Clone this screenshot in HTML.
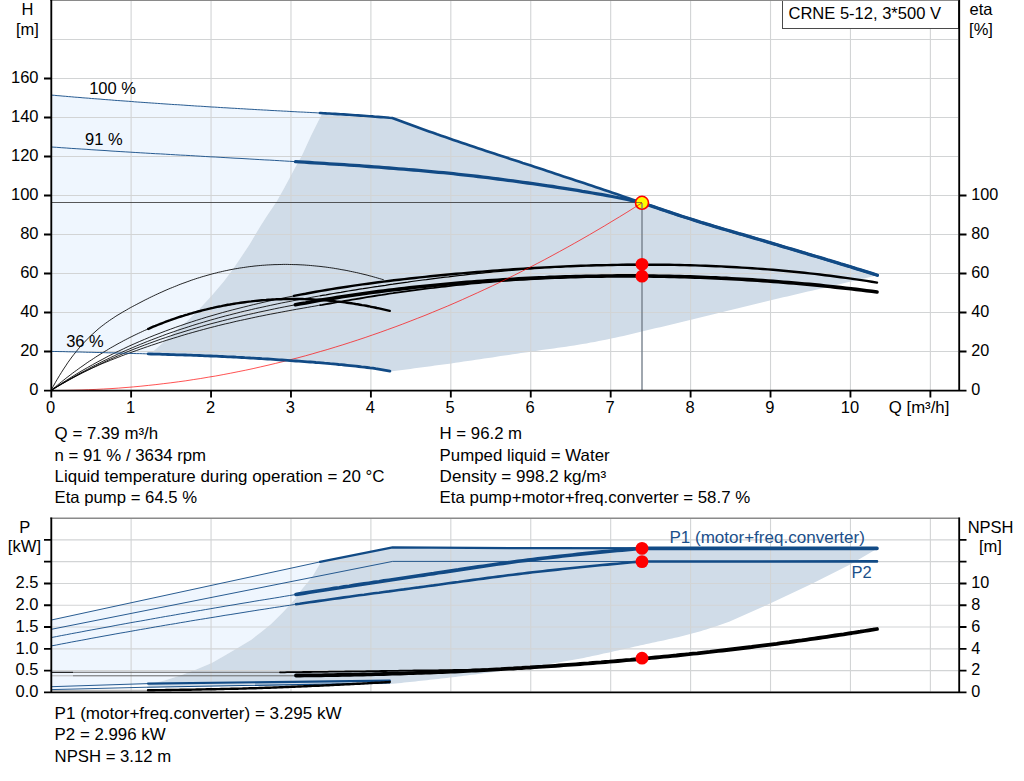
<!DOCTYPE html>
<html><head><meta charset="utf-8"><title>CRNE 5-12 pump curve</title>
<style>html,body{margin:0;padding:0;background:#fff;overflow:hidden}svg{display:block}text{font-family:"Liberation Sans",sans-serif}</style></head>
<body>
<svg width="1024" height="781" viewBox="0 0 1024 781" font-family="'Liberation Sans', sans-serif" font-size="16.5" fill="#000000">
<rect width="1024" height="781" fill="#fff"/>
<path d="M51.4,95.1 L54.3,95.3 L57.1,95.6 L60.0,95.8 L62.9,96.1 L65.7,96.3 L68.6,96.6 L71.5,96.8 L74.3,97.1 L77.2,97.3 L80.0,97.5 L82.9,97.8 L85.8,98.0 L88.6,98.2 L91.5,98.5 L94.4,98.7 L97.2,98.9 L100.1,99.1 L103.0,99.4 L105.8,99.6 L108.7,99.8 L111.6,100.0 L114.4,100.3 L117.3,100.5 L120.2,100.7 L123.0,100.9 L125.9,101.1 L128.7,101.3 L131.6,101.5 L134.5,101.8 L137.3,102.0 L140.2,102.2 L143.1,102.4 L145.9,102.6 L148.8,102.8 L151.7,103.0 L154.5,103.2 L157.4,103.4 L160.3,103.6 L163.1,103.8 L166.0,104.0 L168.9,104.2 L171.7,104.4 L174.6,104.6 L177.4,104.7 L180.3,104.9 L183.2,105.1 L186.0,105.3 L188.9,105.5 L191.8,105.7 L194.6,105.9 L197.5,106.1 L200.4,106.2 L203.2,106.4 L206.1,106.6 L209.0,106.8 L211.8,107.0 L214.7,107.1 L217.6,107.3 L220.4,107.5 L223.3,107.7 L226.1,107.8 L229.0,108.0 L231.9,108.2 L234.7,108.3 L237.6,108.5 L240.5,108.7 L243.3,108.8 L246.2,109.0 L249.1,109.2 L251.9,109.3 L254.8,109.5 L257.7,109.7 L260.5,109.8 L263.4,110.0 L266.3,110.1 L269.1,110.3 L272.0,110.5 L274.8,110.6 L277.7,110.8 L280.6,110.9 L283.4,111.1 L286.3,111.2 L289.2,111.4 L292.0,111.6 L294.9,111.7 L297.8,111.9 L300.6,112.0 L303.5,112.1 L306.4,112.3 L309.2,112.4 L312.1,112.6 L315.0,112.7 L317.8,112.9 L320.7,113.0 L322.2,113.1 L322.2,113.3 L311.0,135.7 L301.8,155.7 L295.7,166.4 L284.2,187.9 L276.5,201.7 L267.5,215.0 L261.1,224.9 L249.5,244.4 L242.2,255.4 L232.9,269.2 L223.7,281.5 L211.4,296.1 L200.7,307.6 L188.4,319.9 L176.1,330.6 L165.4,340.6 L153.1,351.4 L150.0,354.2 L150.0,354.0 L148.1,353.9 L145.3,353.8 L142.4,353.7 L139.6,353.6 L136.7,353.6 L133.9,353.5 L131.0,353.4 L128.2,353.3 L125.4,353.2 L122.5,353.2 L119.7,353.1 L116.8,353.0 L114.0,352.9 L111.1,352.8 L108.3,352.8 L105.4,352.7 L102.6,352.6 L99.8,352.5 L96.9,352.5 L94.1,352.4 L91.2,352.3 L88.4,352.3 L85.5,352.2 L82.7,352.1 L79.8,352.0 L77.0,352.0 L74.2,351.9 L71.3,351.8 L68.5,351.8 L65.6,351.7 L62.8,351.6 L59.9,351.6 L57.1,351.5 L54.2,351.5 L51.4,351.4Z" fill="#eff6fe" stroke="none" stroke-width="0" stroke-linecap="butt" stroke-linejoin="round" />
<path d="M150.0,354.2 L153.1,351.4 L165.4,340.6 L176.1,330.6 L188.4,319.9 L200.7,307.6 L211.4,296.1 L223.7,281.5 L232.9,269.2 L242.2,255.4 L249.5,244.4 L261.1,224.9 L267.5,215.0 L276.5,201.7 L284.2,187.9 L295.7,166.4 L301.8,155.7 L311.0,135.7 L322.2,113.3 L322.2,113.1 L323.5,113.2 L326.4,113.4 L329.3,113.5 L332.1,113.7 L335.0,113.9 L337.9,114.1 L340.7,114.3 L343.6,114.4 L346.5,114.6 L349.3,114.8 L352.2,115.0 L355.1,115.2 L357.9,115.4 L360.8,115.6 L363.7,115.8 L366.5,116.0 L369.4,116.2 L372.2,116.4 L375.1,116.7 L378.0,116.9 L380.8,117.1 L383.7,117.3 L386.6,117.5 L389.4,117.8 L392.3,118.0 L392.3,118.0 L396.4,119.5 L400.5,121.0 L404.5,122.5 L408.6,124.0 L412.7,125.5 L416.8,127.0 L420.8,128.4 L424.9,129.9 L429.0,131.4 L433.1,132.8 L437.1,134.3 L441.2,135.7 L445.3,137.1 L449.4,138.5 L453.4,139.9 L457.5,141.3 L461.6,142.7 L465.7,144.1 L469.8,145.5 L473.8,146.8 L477.9,148.2 L482.0,149.5 L486.1,150.9 L490.1,152.2 L494.2,153.5 L498.3,154.9 L502.4,156.2 L506.4,157.5 L510.5,158.9 L514.6,160.2 L518.7,161.5 L522.7,162.9 L526.8,164.2 L530.9,165.6 L535.0,166.9 L539.1,168.3 L543.1,169.6 L547.2,171.0 L551.3,172.3 L555.4,173.7 L559.4,175.0 L563.5,176.4 L567.6,177.7 L571.7,179.1 L575.7,180.4 L579.8,181.8 L583.9,183.1 L588.0,184.5 L592.0,185.8 L596.1,187.2 L600.2,188.6 L604.3,189.9 L608.4,191.3 L612.4,192.7 L616.5,194.1 L620.6,195.5 L624.7,196.9 L628.7,198.3 L632.8,199.7 L636.9,201.1 L641.0,202.4 L645.0,203.8 L649.1,205.2 L653.2,206.6 L657.3,208.0 L661.3,209.4 L665.4,210.8 L669.5,212.1 L673.6,213.5 L677.7,214.9 L681.7,216.2 L685.8,217.5 L689.9,218.8 L694.0,220.1 L698.0,221.4 L702.1,222.7 L706.2,223.9 L710.3,225.1 L714.3,226.4 L718.4,227.6 L722.5,228.8 L726.6,230.0 L730.6,231.2 L734.7,232.4 L738.8,233.6 L742.9,234.7 L747.0,235.9 L751.0,237.1 L755.1,238.3 L759.2,239.5 L763.3,240.7 L767.3,241.9 L771.4,243.1 L775.5,244.3 L779.6,245.6 L783.6,246.8 L787.7,248.0 L791.8,249.2 L795.9,250.4 L799.9,251.6 L804.0,252.8 L808.1,254.1 L812.2,255.3 L816.3,256.5 L820.3,257.7 L824.4,258.9 L828.5,260.2 L832.6,261.4 L836.6,262.6 L840.7,263.9 L844.8,265.1 L848.9,266.3 L852.9,267.6 L857.0,268.9 L861.1,270.1 L865.2,271.4 L869.2,272.6 L873.3,273.9 L877.4,275.2 L877.4,275.2 L873.3,276.2 L869.2,277.2 L865.1,278.2 L861.0,279.2 L856.9,280.2 L852.8,281.2 L848.7,282.1 L844.6,283.1 L840.5,284.1 L836.4,285.0 L832.3,286.0 L828.2,286.9 L824.1,287.9 L820.0,288.8 L816.0,289.8 L811.9,290.7 L807.8,291.6 L803.7,292.6 L799.6,293.5 L795.5,294.5 L791.4,295.4 L787.3,296.4 L783.2,297.3 L779.1,298.3 L775.0,299.3 L770.9,300.2 L766.8,301.2 L762.7,302.2 L758.6,303.2 L754.5,304.2 L750.4,305.2 L746.3,306.2 L742.2,307.2 L738.1,308.2 L734.0,309.2 L729.9,310.2 L725.8,311.2 L721.7,312.2 L717.6,313.2 L713.5,314.2 L709.4,315.2 L705.3,316.2 L701.2,317.2 L697.1,318.2 L693.1,319.2 L689.0,320.2 L684.9,321.2 L680.8,322.2 L676.7,323.2 L672.6,324.2 L668.5,325.2 L664.4,326.2 L660.3,327.2 L656.2,328.1 L652.1,329.1 L648.0,330.1 L643.9,331.1 L639.8,332.0 L635.7,333.0 L631.6,334.0 L627.5,334.9 L623.4,335.9 L619.3,336.8 L615.2,337.7 L611.1,338.6 L607.0,339.4 L602.9,340.3 L598.8,341.1 L594.7,341.9 L590.6,342.6 L586.5,343.4 L582.4,344.1 L578.3,344.8 L574.2,345.4 L570.2,346.1 L566.1,346.7 L562.0,347.3 L557.9,347.8 L553.8,348.4 L549.7,349.0 L545.6,349.5 L541.5,350.1 L537.4,350.7 L533.3,351.3 L529.2,351.9 L525.1,352.5 L521.0,353.1 L516.9,353.7 L512.8,354.3 L508.7,354.9 L504.6,355.5 L500.5,356.1 L496.4,356.8 L492.3,357.4 L488.2,358.0 L484.1,358.6 L480.0,359.2 L475.9,359.8 L471.8,360.4 L467.7,361.0 L463.6,361.6 L459.5,362.2 L455.4,362.8 L451.3,363.4 L447.3,363.9 L443.2,364.5 L439.1,365.0 L435.0,365.6 L430.9,366.2 L426.8,366.7 L422.7,367.3 L418.6,367.8 L414.5,368.3 L410.4,368.9 L406.3,369.4 L402.2,369.9 L398.1,370.5 L394.0,371.0 L389.9,371.5 L389.9,371.1 L387.1,370.6 L384.2,370.1 L381.4,369.6 L378.5,369.1 L375.7,368.7 L372.8,368.2 L370.0,367.9 L367.1,367.5 L364.3,367.2 L361.5,366.9 L358.6,366.5 L355.8,366.2 L352.9,365.9 L350.1,365.6 L347.2,365.3 L344.4,365.0 L341.5,364.7 L338.7,364.5 L335.9,364.2 L333.0,363.9 L330.2,363.7 L327.3,363.4 L324.5,363.2 L321.6,362.9 L318.8,362.7 L315.9,362.5 L313.1,362.2 L310.3,362.0 L307.4,361.8 L304.6,361.6 L301.7,361.4 L298.9,361.2 L296.0,361.0 L293.2,360.8 L290.3,360.6 L287.5,360.4 L284.7,360.2 L281.8,360.0 L279.0,359.8 L276.1,359.6 L273.3,359.4 L270.4,359.2 L267.6,359.0 L264.7,358.8 L261.9,358.7 L259.1,358.5 L256.2,358.3 L253.4,358.1 L250.5,358.0 L247.7,357.8 L244.8,357.7 L242.0,357.5 L239.1,357.3 L236.3,357.2 L233.5,357.0 L230.6,356.9 L227.8,356.8 L224.9,356.6 L222.1,356.5 L219.2,356.4 L216.4,356.2 L213.5,356.1 L210.7,356.0 L207.8,355.9 L205.0,355.8 L202.2,355.6 L199.3,355.5 L196.5,355.4 L193.6,355.3 L190.8,355.2 L187.9,355.1 L185.1,355.0 L182.2,354.9 L179.4,354.8 L176.6,354.8 L173.7,354.7 L170.9,354.6 L168.0,354.5 L165.2,354.4 L162.3,354.3 L159.5,354.2 L156.6,354.1 L153.8,354.1 L151.0,354.0 L150.0,354.0Z" fill="#d0dce8" stroke="none" stroke-width="0" stroke-linecap="butt" stroke-linejoin="round" />
<path d="M51.4,620.0 L321.0,561.8 L321.0,562.0 L312.1,576.9 L301.9,589.2 L294.7,599.4 L283.4,611.7 L271.1,624.0 L260.9,632.2 L251.7,639.4 L238.4,647.6 L226.1,654.8 L211.7,663.0 L197.4,669.1 L181.0,675.2 L164.6,680.4 L148.2,684.6 L51.4,689.6Z" fill="#eff6fe" stroke="none" stroke-width="0" stroke-linecap="butt" stroke-linejoin="round" />
<path d="M148.2,684.6 L164.6,680.4 L181.0,675.2 L197.4,669.1 L211.7,663.0 L226.1,654.8 L238.4,647.6 L251.7,639.4 L260.9,632.2 L271.1,624.0 L283.4,611.7 L294.7,599.4 L301.9,589.2 L312.1,576.9 L321.0,562.0 L392.6,547.4 L540.0,548.2 L877.0,548.4 L877.0,548.8 L850.7,564.2 L810.9,584.2 L770.6,603.3 L729.1,621.8 L726.2,622.8 L723.4,623.8 L720.5,624.8 L717.7,625.7 L714.8,626.7 L712.0,627.6 L709.1,628.5 L706.3,629.4 L703.4,630.3 L700.6,631.2 L697.7,632.0 L694.9,632.8 L692.0,633.6 L689.2,634.3 L686.3,635.1 L683.5,635.8 L680.6,636.5 L677.8,637.2 L674.9,637.8 L672.1,638.5 L669.2,639.1 L666.4,639.8 L663.5,640.4 L660.7,641.0 L657.8,641.6 L655.0,642.2 L652.1,642.8 L649.3,643.5 L646.4,644.1 L643.6,644.7 L640.7,645.3 L637.9,646.0 L635.0,646.6 L632.2,647.3 L629.3,647.9 L626.5,648.6 L623.6,649.2 L620.8,649.8 L617.9,650.5 L615.0,651.1 L612.2,651.7 L609.3,652.4 L606.5,653.0 L603.6,653.6 L600.8,654.3 L597.9,654.9 L595.1,655.5 L592.2,656.1 L589.4,656.7 L586.5,657.3 L583.7,657.9 L580.8,658.4 L578.0,659.0 L575.1,659.5 L572.3,660.0 L569.4,660.5 L566.6,661.0 L563.7,661.5 L560.9,662.0 L558.0,662.5 L555.2,663.0 L552.3,663.5 L549.5,663.9 L546.6,664.4 L543.8,664.8 L540.9,665.3 L538.1,665.7 L535.2,666.2 L532.4,666.6 L529.5,667.0 L526.7,667.4 L523.8,667.9 L521.0,668.3 L518.1,668.7 L515.3,669.1 L512.4,669.5 L509.6,669.9 L506.7,670.3 L503.9,670.7 L501.0,671.1 L498.1,671.5 L495.3,671.8 L492.4,672.2 L489.6,672.6 L486.7,673.0 L483.9,673.3 L481.0,673.7 L478.2,674.1 L475.3,674.4 L472.5,674.8 L469.6,675.1 L466.8,675.5 L463.9,675.8 L461.1,676.2 L458.2,676.5 L455.4,676.9 L452.5,677.2 L449.7,677.6 L446.8,677.9 L444.0,678.2 L441.1,678.6 L438.3,678.9 L435.4,679.2 L432.6,679.5 L429.7,679.8 L426.9,680.2 L424.0,680.5 L421.2,680.8 L418.3,681.1 L415.5,681.4 L412.6,681.7 L409.8,682.0 L406.9,682.3 L404.1,682.6 L401.2,682.9 L398.4,683.2 L395.5,683.4 L392.7,683.7 L389.8,684.0 L148.3,687.0Z" fill="#d0dce8" stroke="none" stroke-width="0" stroke-linecap="butt" stroke-linejoin="round" />
<path d="M131.12,1 V390 M131.12,519 V691.6 M211.05,1 V390 M211.05,519 V691.6 M290.97,1 V390 M290.97,519 V691.6 M370.90,1 V390 M370.90,519 V691.6 M450.82,1 V390 M450.82,519 V691.6 M530.75,1 V390 M530.75,519 V691.6 M610.68,1 V390 M610.68,519 V691.6 M690.60,1 V390 M690.60,519 V691.6 M770.52,1 V390 M770.52,519 V691.6 M850.45,1 V390 M850.45,519 V691.6 M930.38,1 V390 M930.38,519 V691.6 M52,351.5 H958 M52,312.5 H958 M52,273.5 H958 M52,234.5 H958 M52,195.5 H958 M52,156.5 H958 M52,117.5 H958 M52,78.5 H958 M52,39.5 H958 M52,670.61 H958 M52,648.83 H958 M52,627.04 H958 M52,605.25 H958 M52,583.46 H958 M52,561.67 H958 M52,539.89 H958" stroke="#d2d4d5" stroke-width="1.1" fill="none"/>
<path d="M52,202.5 H642" stroke="#3c3c3c" stroke-width="1" opacity="0.85"/>
<path d="M642,203 V390" stroke="#707b86" stroke-width="2" opacity="0.66"/>
<path d="M51.0,390.5 L53.1,386.6 L55.2,382.8 L57.3,379.2 L59.4,375.7 L61.5,372.3 L63.6,369.0 L65.7,365.9 L67.7,362.8 L69.8,359.9 L71.9,357.0 L74.0,354.3 L76.1,351.7 L78.2,349.1 L80.3,346.7 L82.4,344.3 L84.5,342.1 L86.6,339.9 L88.7,337.8 L90.8,335.7 L92.9,333.8 L95.0,331.9 L97.0,330.1 L99.1,328.3 L101.2,326.6 L103.3,325.0 L105.4,323.4 L107.5,321.9 L109.6,320.4 L111.7,319.0 L113.8,317.6 L115.9,316.2 L118.0,314.9 L120.1,313.7 L122.2,312.4 L124.3,311.2 L126.4,310.0 L128.4,308.8 L130.5,307.6 L132.6,306.5 L134.7,305.4 L136.8,304.3 L138.9,303.2 L141.0,302.1 L143.1,301.0 L145.2,299.9 L147.3,298.9 L149.4,297.8 L151.5,296.8 L153.6,295.8 L155.7,294.8 L157.7,293.9 L159.8,292.9 L161.9,292.0 L164.0,291.0 L166.1,290.1 L168.2,289.2 L170.3,288.3 L172.4,287.5 L174.5,286.6 L176.6,285.8 L178.7,284.9 L180.8,284.1 L182.9,283.3 L185.0,282.6 L187.1,281.8 L189.1,281.1 L191.2,280.3 L193.3,279.6 L195.4,278.9 L197.5,278.2 L199.6,277.6 L201.7,276.9 L203.8,276.3 L205.9,275.7 L208.0,275.1 L210.1,274.5 L212.2,273.9 L214.3,273.4 L216.4,272.9 L218.4,272.3 L220.5,271.9 L222.6,271.4 L224.7,270.9 L226.8,270.5 L228.9,270.0 L231.0,269.6 L233.1,269.2 L235.2,268.8 L237.3,268.5 L239.4,268.1 L241.5,267.8 L243.6,267.5 L245.7,267.2 L247.7,266.9 L249.8,266.6 L251.9,266.4 L254.0,266.1 L256.1,265.9 L258.2,265.7 L260.3,265.5 L262.4,265.3 L264.5,265.2 L266.6,265.0 L268.7,264.9 L270.8,264.8 L272.9,264.7 L275.0,264.6 L277.1,264.6 L279.1,264.5 L281.2,264.5 L283.3,264.4 L285.4,264.4 L287.5,264.4 L289.6,264.5 L291.7,264.5 L293.8,264.6 L295.9,264.6 L298.0,264.7 L300.1,264.8 L302.2,264.9 L304.3,265.0 L306.4,265.2 L308.4,265.3 L310.5,265.5 L312.6,265.7 L314.7,265.9 L316.8,266.1 L318.9,266.3 L321.0,266.5 L323.1,266.8 L325.2,267.0 L327.3,267.3 L329.4,267.6 L331.5,267.9 L333.6,268.2 L335.7,268.6 L337.8,268.9 L339.8,269.3 L341.9,269.7 L344.0,270.0 L346.1,270.4 L348.2,270.8 L350.3,271.3 L352.4,271.7 L354.5,272.2 L356.6,272.6 L358.7,273.1 L360.8,273.6 L362.9,274.1 L365.0,274.6 L367.1,275.1 L369.1,275.7 L371.2,276.2 L373.3,276.8 L375.4,277.4 L377.5,278.0 L379.6,278.6 L381.7,279.2 L383.8,279.8" fill="none" stroke="#000" stroke-width="0.85" stroke-linecap="butt" stroke-linejoin="round" />
<path d="M51.0,390.5 L53.1,388.7 L55.3,386.9 L57.4,385.2 L59.5,383.4 L61.7,381.7 L63.8,380.0 L65.9,378.3 L68.0,376.7 L70.2,375.0 L72.3,373.4 L74.4,371.8 L76.6,370.3 L78.7,368.7 L80.8,367.2 L83.0,365.7 L85.1,364.2 L87.2,362.7 L89.3,361.3 L91.5,359.9 L93.6,358.5 L95.7,357.1 L97.9,355.7 L100.0,354.4 L102.1,353.1 L104.3,351.7 L106.4,350.5 L108.5,349.2 L110.6,347.9 L112.8,346.7 L114.9,345.5 L117.0,344.3 L119.2,343.1 L121.3,342.0 L123.4,340.8 L125.6,339.7 L127.7,338.6 L129.8,337.5 L131.9,336.5 L134.1,335.4 L136.2,334.4 L138.3,333.4 L140.5,332.4 L142.6,331.4 L144.7,330.4 L146.9,329.5 L148.2,328.9" fill="none" stroke="#000" stroke-width="0.85" stroke-linecap="butt" stroke-linejoin="round" />
<path d="M51.0,390.5 L56.2,387.0 L61.4,383.5 L66.6,380.2 L71.8,376.9 L77.0,373.7 L82.2,370.6 L87.4,367.6 L92.6,364.7 L97.8,361.8 L102.9,359.1 L108.1,356.3 L113.3,353.7 L118.5,351.2 L123.7,348.7 L128.9,346.2 L134.1,343.9 L139.3,341.6 L144.5,339.4 L149.7,337.2 L154.9,335.1 L160.1,333.1 L165.3,331.1 L170.5,329.2 L175.7,327.3 L180.9,325.5 L186.1,323.7 L191.3,322.0 L196.5,320.3 L201.7,318.7 L206.8,317.1 L212.0,315.6 L217.2,314.1 L222.4,312.6 L227.6,311.2 L232.8,309.8 L238.0,308.5 L243.2,307.2 L248.4,305.9 L253.6,304.6 L258.8,303.4 L264.0,302.2 L269.2,301.0 L274.4,299.9 L279.6,298.8 L284.8,297.7 L290.0,296.7 L294.0,295.9" fill="none" stroke="#000" stroke-width="0.85" stroke-linecap="butt" stroke-linejoin="round" />
<path d="M51.0,390.5 L56.2,387.4 L61.4,384.3 L66.6,381.4 L71.8,378.5 L77.0,375.7 L82.2,372.9 L87.4,370.3 L92.6,367.7 L97.8,365.1 L102.9,362.7 L108.1,360.2 L113.3,357.9 L118.5,355.6 L123.7,353.4 L128.9,351.2 L134.1,349.1 L139.3,347.1 L144.5,345.1 L149.7,343.2 L154.9,341.3 L160.1,339.4 L165.3,337.7 L170.5,335.9 L175.7,334.2 L180.9,332.6 L186.1,331.0 L191.3,329.4 L196.5,327.9 L201.7,326.4 L206.8,324.9 L212.0,323.5 L217.2,322.2 L222.4,320.8 L227.6,319.5 L232.8,318.2 L238.0,317.0 L243.2,315.7 L248.4,314.5 L253.6,313.4 L258.8,312.2 L264.0,311.1 L269.2,310.0 L274.4,308.9 L279.6,307.8 L284.8,306.8 L290.0,305.8 L295.2,304.8 L295.4,304.7" fill="none" stroke="#000" stroke-width="0.85" stroke-linecap="butt" stroke-linejoin="round" />
<path d="M51.0,390.5 L54.7,388.2 L58.4,385.9 L62.2,383.6 L65.9,381.4 L69.6,379.2 L73.3,377.1 L77.0,375.0 L80.7,372.9 L84.5,370.9 L88.2,368.9 L91.9,366.9 L95.6,365.0 L99.3,363.1 L103.0,361.2 L106.8,359.4 L110.5,357.6 L114.2,355.8 L117.9,354.1 L121.6,352.4 L125.3,350.7 L129.1,349.1 L132.8,347.5 L136.5,345.9 L140.2,344.4 L143.9,342.9 L147.6,341.4 L151.4,339.9 L155.1,338.5 L158.8,337.1 L162.5,335.7 L166.2,334.3 L169.9,333.0 L173.7,331.7 L177.4,330.4 L181.1,329.2 L184.8,328.0 L188.5,326.8 L192.2,325.6 L196.0,324.4 L199.7,323.3 L203.4,322.2 L207.1,321.1 L210.8,320.0 L214.5,319.0 L218.3,317.9 L222.0,316.9 L225.7,315.9 L229.4,315.0 L233.1,314.0 L236.8,313.1 L240.6,312.1 L244.3,311.2 L248.0,310.4 L251.7,309.5 L255.4,308.6 L259.2,307.8 L262.9,307.0 L266.6,306.2 L270.3,305.4 L274.0,304.6 L277.7,303.8 L281.5,303.0 L285.2,302.3 L288.9,301.6 L292.6,300.8 L296.3,300.1 L300.0,299.4 L303.8,298.7 L307.5,298.1 L311.2,297.4 L314.9,296.7 L318.6,296.1 L320.0,295.8" fill="none" stroke="#000" stroke-width="0.85" stroke-linecap="butt" stroke-linejoin="round" />
<path d="M320.0,295.8 L322.3,295.4 L326.1,294.8 L329.8,294.1 L333.5,293.5 L337.2,292.9 L340.9,292.3 L344.6,291.6 L348.4,291.0 L352.1,290.4 L355.8,289.8 L359.5,289.2 L363.2,288.7 L366.9,288.1 L370.7,287.5 L374.4,286.9 L378.1,286.4 L381.8,285.8 L385.5,285.3 L389.2,284.7 L393.0,284.2 L396.7,283.6 L400.4,283.1 L404.1,282.6 L407.8,282.1 L411.5,281.5 L415.3,281.0 L419.0,280.5 L422.7,280.0 L426.4,279.6 L430.1,279.1 L433.8,278.6 L437.6,278.1 L441.3,277.7 L445.0,277.2 L448.7,276.8 L452.4,276.3 L456.2,275.9 L459.9,275.5 L463.6,275.1 L467.3,274.6 L471.0,274.2 L474.7,273.8 L478.5,273.4 L482.2,273.1 L485.9,272.7 L489.6,272.3 L493.3,272.0 L497.0,271.6 L500.8,271.3 L504.5,270.9 L508.2,270.6 L511.9,270.3 L515.6,269.9 L519.3,269.6 L523.1,269.3 L526.8,269.0 L530.5,268.8 L534.2,268.5 L537.9,268.2 L541.6,268.0 L545.4,267.7 L549.1,267.5 L552.8,267.2 L556.5,267.0 L560.2,266.8 L563.9,266.6 L567.7,266.4 L571.4,266.2 L575.1,266.0 L578.8,265.8 L582.5,265.7 L586.2,265.5 L590.0,265.4 L593.7,265.2 L597.4,265.1 L601.1,265.0 L604.8,264.9 L608.5,264.8 L612.3,264.7 L616.0,264.6 L619.7,264.5 L623.4,264.5 L627.1,264.4 L630.8,264.4 L634.6,264.3 L638.3,264.3 L642.0,264.3" fill="none" stroke="#000" stroke-width="1.2" stroke-linecap="butt" stroke-linejoin="round" />
<path d="M51.0,390.5 L54.7,388.1 L58.4,385.8 L62.2,383.6 L65.9,381.5 L69.6,379.4 L73.3,377.4 L77.0,375.4 L80.7,373.6 L84.5,371.7 L88.2,370.0 L91.9,368.2 L95.6,366.6 L99.3,364.9 L103.0,363.3 L106.8,361.8 L110.5,360.3 L114.2,358.8 L117.9,357.4 L121.6,355.9 L125.3,354.5 L129.1,353.2 L132.8,351.8 L136.5,350.5 L140.2,349.2 L143.9,347.9 L147.6,346.6 L151.4,345.3 L155.1,344.1 L158.8,342.8 L162.5,341.6 L166.2,340.4 L169.9,339.3 L173.7,338.1 L177.4,337.0 L181.1,335.8 L184.8,334.7 L188.5,333.6 L192.2,332.6 L196.0,331.5 L199.7,330.5 L203.4,329.5 L207.1,328.5 L210.8,327.5 L214.5,326.6 L218.3,325.6 L222.0,324.7 L225.7,323.8 L229.4,323.0 L233.1,322.1 L236.8,321.2 L240.6,320.4 L244.3,319.6 L248.0,318.8 L251.7,318.0 L255.4,317.2 L259.2,316.4 L262.9,315.7 L266.6,314.9 L270.3,314.2 L274.0,313.5 L277.7,312.8 L281.5,312.1 L285.2,311.4 L288.9,310.7 L292.6,310.0 L296.3,309.3 L300.0,308.7 L303.8,308.0 L307.5,307.4 L311.2,306.7 L314.9,306.1 L318.6,305.4 L320.3,305.1" fill="none" stroke="#000" stroke-width="0.85" stroke-linecap="butt" stroke-linejoin="round" />
<path d="M320.3,305.1 L322.3,304.8 L326.1,304.1 L329.8,303.5 L333.5,302.9 L337.2,302.2 L340.9,301.6 L344.6,301.0 L348.4,300.3 L352.1,299.7 L355.8,299.1 L359.5,298.5 L363.2,297.8 L366.9,297.2 L370.7,296.6 L374.4,296.0 L378.1,295.4 L381.8,294.9 L385.5,294.3 L389.2,293.7 L393.0,293.2 L396.7,292.6 L400.4,292.1 L404.1,291.6 L407.8,291.1 L411.5,290.6 L415.3,290.1 L419.0,289.6 L422.7,289.1 L426.4,288.7 L430.1,288.2 L433.8,287.8 L437.6,287.3 L441.3,286.9 L445.0,286.5 L448.7,286.1 L452.4,285.6 L456.2,285.2 L459.9,284.9 L463.6,284.5 L467.3,284.1 L471.0,283.7 L474.7,283.4 L478.5,283.0 L482.2,282.7 L485.9,282.4 L489.6,282.0 L493.3,281.7 L497.0,281.4 L500.8,281.1 L504.5,280.8 L508.2,280.5 L511.9,280.3 L515.6,280.0 L519.3,279.7 L523.1,279.5 L526.8,279.3 L530.5,279.0 L534.2,278.8 L537.9,278.6 L541.6,278.4 L545.4,278.2 L549.1,278.0 L552.8,277.8 L556.5,277.6 L560.2,277.5 L563.9,277.3 L567.7,277.2 L571.4,277.1 L575.1,276.9 L578.8,276.8 L582.5,276.7 L586.2,276.6 L590.0,276.5 L593.7,276.4 L597.4,276.4 L601.1,276.3 L604.8,276.2 L608.5,276.2 L612.3,276.2 L616.0,276.1 L619.7,276.1 L623.4,276.1 L627.1,276.1 L630.8,276.1 L634.6,276.1 L638.3,276.2 L642.0,276.2" fill="none" stroke="#000" stroke-width="1.8" stroke-linecap="round" stroke-linejoin="round" />
<path d="M148.2,328.9 L149.0,328.6 L151.1,327.6 L153.2,326.7 L155.4,325.9 L157.5,325.0 L159.6,324.2 L161.8,323.3 L163.9,322.5 L166.0,321.7 L168.2,320.9 L170.3,320.2 L172.4,319.4 L174.6,318.7 L176.7,317.9 L178.8,317.2 L180.9,316.5 L183.1,315.9 L185.2,315.2 L187.3,314.6 L189.5,313.9 L191.6,313.3 L193.7,312.7 L195.9,312.1 L198.0,311.5 L200.1,311.0 L202.2,310.4 L204.4,309.9 L206.5,309.4 L208.6,308.8 L210.8,308.3 L212.9,307.9 L215.0,307.4 L217.2,306.9 L219.3,306.5 L221.4,306.1 L223.5,305.6 L225.7,305.2 L227.8,304.8 L229.9,304.5 L232.1,304.1 L234.2,303.7 L236.3,303.4 L238.5,303.1 L240.6,302.8 L242.7,302.5 L244.8,302.2 L247.0,301.9 L249.1,301.6 L251.2,301.4 L253.4,301.1 L255.5,300.9 L257.6,300.7 L259.8,300.5 L261.9,300.3 L264.0,300.1 L266.1,300.0 L268.3,299.8 L270.4,299.7 L272.5,299.5 L274.7,299.4 L276.8,299.3 L278.9,299.2 L281.1,299.2 L283.2,299.1 L285.3,299.0 L287.5,299.0 L289.6,299.0 L291.7,298.9 L293.8,298.9 L296.0,299.0 L298.1,299.0 L300.2,299.0 L302.4,299.0 L304.5,299.1 L306.6,299.2 L308.8,299.2 L310.9,299.3 L313.0,299.4 L315.1,299.6 L317.3,299.7 L319.4,299.8 L321.5,300.0 L323.7,300.1 L325.8,300.3 L327.9,300.5 L330.1,300.7 L332.2,300.9 L334.3,301.1 L336.4,301.4 L338.6,301.6 L340.7,301.9 L342.8,302.1 L345.0,302.4 L347.1,302.7 L349.2,303.0 L351.4,303.3 L353.5,303.6 L355.6,304.0 L357.7,304.3 L359.9,304.7 L362.0,305.1 L364.1,305.4 L366.3,305.8 L368.4,306.2 L370.5,306.7 L372.7,307.1 L374.8,307.5 L376.9,308.0 L379.0,308.4 L381.2,308.9 L383.3,309.4 L385.4,309.9 L387.6,310.4 L389.7,310.9" fill="none" stroke="#000" stroke-width="2.4" stroke-linecap="round" stroke-linejoin="round" />
<path d="M294.0,295.9 L295.2,295.6 L300.4,294.6 L305.6,293.7 L310.7,292.7 L315.9,291.8 L321.1,290.9 L326.3,290.0 L331.5,289.1 L336.7,288.3 L341.9,287.5 L347.1,286.7 L352.3,285.9 L357.5,285.1 L362.7,284.4 L367.9,283.7 L373.1,283.0 L378.3,282.3 L383.5,281.6 L388.7,281.0 L393.9,280.3 L399.1,279.7 L404.3,279.1 L409.5,278.5 L414.6,278.0 L419.8,277.4 L425.0,276.9 L430.2,276.3 L435.4,275.8 L440.6,275.3 L445.8,274.8 L451.0,274.3 L456.2,273.8 L461.4,273.4 L466.6,272.9 L471.8,272.5 L477.0,272.0 L482.2,271.6 L487.4,271.2 L492.6,270.8 L497.8,270.4 L503.0,270.0 L508.2,269.7 L513.4,269.3 L518.5,269.0 L523.7,268.6 L528.9,268.3 L534.1,268.0 L539.3,267.7 L544.5,267.4 L549.7,267.2 L554.9,266.9 L560.1,266.7 L565.3,266.4 L570.5,266.2 L575.7,266.0 L580.9,265.8 L586.1,265.6 L591.3,265.5 L596.5,265.3 L601.7,265.2 L606.9,265.1 L612.1,265.0 L617.3,264.9 L622.4,264.8 L627.6,264.8 L632.8,264.7 L638.0,264.7 L643.2,264.7 L648.4,264.7 L653.6,264.7 L658.8,264.7 L664.0,264.8 L669.2,264.8 L674.4,264.9 L679.6,265.0 L684.8,265.1 L690.0,265.3 L695.2,265.4 L700.4,265.6 L705.6,265.8 L710.8,266.0 L716.0,266.2 L721.2,266.4 L726.3,266.7 L731.5,267.0 L736.7,267.3 L741.9,267.6 L747.1,267.9 L752.3,268.3 L757.5,268.6 L762.7,269.0 L767.9,269.4 L773.1,269.8 L778.3,270.3 L783.5,270.7 L788.7,271.2 L793.9,271.7 L799.1,272.3 L804.3,272.8 L809.5,273.4 L814.7,273.9 L819.9,274.5 L825.1,275.2 L830.2,275.8 L835.4,276.5 L840.6,277.2 L845.8,277.9 L851.0,278.6 L856.2,279.4 L861.4,280.1 L866.6,280.9 L871.8,281.8 L877.0,282.6" fill="none" stroke="#000" stroke-width="2.4" stroke-linecap="round" stroke-linejoin="round" />
<path d="M295.4,304.7 L300.4,303.8 L305.6,302.9 L310.7,301.9 L315.9,301.0 L321.1,300.1 L326.3,299.3 L331.5,298.4 L336.7,297.6 L341.9,296.8 L347.1,296.0 L352.3,295.2 L357.5,294.5 L362.7,293.7 L367.9,293.0 L373.1,292.3 L378.3,291.6 L383.5,291.0 L388.7,290.3 L393.9,289.7 L399.1,289.1 L404.3,288.5 L409.5,287.9 L414.6,287.3 L419.8,286.8 L425.0,286.2 L430.2,285.7 L435.4,285.2 L440.6,284.7 L445.8,284.2 L451.0,283.8 L456.2,283.3 L461.4,282.9 L466.6,282.4 L471.8,282.0 L477.0,281.6 L482.2,281.2 L487.4,280.9 L492.6,280.5 L497.8,280.2 L503.0,279.8 L508.2,279.5 L513.4,279.2 L518.5,278.9 L523.7,278.6 L528.9,278.4 L534.1,278.1 L539.3,277.9 L544.5,277.7 L549.7,277.4 L554.9,277.2 L560.1,277.1 L565.3,276.9 L570.5,276.7 L575.7,276.6 L580.9,276.5 L586.1,276.3 L591.3,276.2 L596.5,276.2 L601.7,276.1 L606.9,276.0 L612.1,276.0 L617.3,275.9 L622.4,275.9 L627.6,275.9 L632.8,275.9 L638.0,275.9 L643.2,276.0 L648.4,276.0 L653.6,276.1 L658.8,276.2 L664.0,276.3 L669.2,276.4 L674.4,276.5 L679.6,276.6 L684.8,276.8 L690.0,276.9 L695.2,277.1 L700.4,277.3 L705.6,277.5 L710.8,277.7 L716.0,277.9 L721.2,278.2 L726.3,278.4 L731.5,278.7 L736.7,279.0 L741.9,279.3 L747.1,279.6 L752.3,279.9 L757.5,280.3 L762.7,280.6 L767.9,281.0 L773.1,281.4 L778.3,281.8 L783.5,282.2 L788.7,282.6 L793.9,283.0 L799.1,283.5 L804.3,284.0 L809.5,284.4 L814.7,284.9 L819.9,285.4 L825.1,286.0 L830.2,286.5 L835.4,287.1 L840.6,287.6 L845.8,288.2 L851.0,288.8 L856.2,289.4 L861.4,290.0 L866.6,290.7 L871.8,291.3 L877.0,292.0" fill="none" stroke="#000" stroke-width="3.6" stroke-linecap="round" stroke-linejoin="round" />
<path d="M51.2,390.5 L58.7,390.5 L66.2,390.4 L73.6,390.2 L81.1,390.0 L88.6,389.7 L96.1,389.4 L103.5,389.0 L111.0,388.6 L118.5,388.1 L126.0,387.5 L133.4,386.9 L140.9,386.2 L148.4,385.4 L155.9,384.6 L163.3,383.7 L170.8,382.8 L178.3,381.8 L185.8,380.8 L193.3,379.6 L200.7,378.5 L208.2,377.2 L215.7,376.0 L223.2,374.6 L230.6,373.2 L238.1,371.7 L245.6,370.2 L253.1,368.6 L260.5,366.9 L268.0,365.2 L275.5,363.4 L283.0,361.6 L290.4,359.7 L297.9,357.8 L305.4,355.8 L312.9,353.7 L320.4,351.5 L327.8,349.4 L335.3,347.1 L342.8,344.8 L350.3,342.4 L357.7,340.0 L365.2,337.5 L372.7,334.9 L380.2,332.3 L387.6,329.6 L395.1,326.9 L402.6,324.1 L410.1,321.2 L417.5,318.3 L425.0,315.4 L432.5,312.3 L440.0,309.2 L447.5,306.1 L454.9,302.9 L462.4,299.6 L469.9,296.2 L477.4,292.8 L484.8,289.4 L492.3,285.9 L499.8,282.3 L507.3,278.7 L514.7,275.0 L522.2,271.2 L529.7,267.4 L537.2,263.5 L544.7,259.6 L552.1,255.6 L559.6,251.5 L567.1,247.4 L574.6,243.2 L582.0,239.0 L589.5,234.7 L597.0,230.3 L604.5,225.9 L611.9,221.4 L619.4,216.9 L626.9,212.3 L634.4,207.6 L642.0,202.8" fill="none" stroke="#ff0000" stroke-width="0.8" stroke-linecap="butt" stroke-linejoin="round" opacity="0.85"/>
<path d="M51.4,95.1 L54.3,95.3 L57.1,95.6 L60.0,95.8 L62.9,96.1 L65.7,96.3 L68.6,96.6 L71.5,96.8 L74.3,97.1 L77.2,97.3 L80.0,97.5 L82.9,97.8 L85.8,98.0 L88.6,98.2 L91.5,98.5 L94.4,98.7 L97.2,98.9 L100.1,99.1 L103.0,99.4 L105.8,99.6 L108.7,99.8 L111.6,100.0 L114.4,100.3 L117.3,100.5 L120.2,100.7 L123.0,100.9 L125.9,101.1 L128.7,101.3 L131.6,101.5 L134.5,101.8 L137.3,102.0 L140.2,102.2 L143.1,102.4 L145.9,102.6 L148.8,102.8 L151.7,103.0 L154.5,103.2 L157.4,103.4 L160.3,103.6 L163.1,103.8 L166.0,104.0 L168.9,104.2 L171.7,104.4 L174.6,104.6 L177.4,104.7 L180.3,104.9 L183.2,105.1 L186.0,105.3 L188.9,105.5 L191.8,105.7 L194.6,105.9 L197.5,106.1 L200.4,106.2 L203.2,106.4 L206.1,106.6 L209.0,106.8 L211.8,107.0 L214.7,107.1 L217.6,107.3 L220.4,107.5 L223.3,107.7 L226.1,107.8 L229.0,108.0 L231.9,108.2 L234.7,108.3 L237.6,108.5 L240.5,108.7 L243.3,108.8 L246.2,109.0 L249.1,109.2 L251.9,109.3 L254.8,109.5 L257.7,109.7 L260.5,109.8 L263.4,110.0 L266.3,110.1 L269.1,110.3 L272.0,110.5 L274.8,110.6 L277.7,110.8 L280.6,110.9 L283.4,111.1 L286.3,111.2 L289.2,111.4 L292.0,111.6 L294.9,111.7 L297.8,111.9 L300.6,112.0 L303.5,112.1 L306.4,112.3 L309.2,112.4 L312.1,112.6 L315.0,112.7 L317.8,112.9 L320.0,113.0" fill="none" stroke="#114a85" stroke-width="0.9" stroke-linecap="butt" stroke-linejoin="round" />
<path d="M320.0,113.0 L320.7,113.0 L323.5,113.2 L326.4,113.4 L329.3,113.5 L332.1,113.7 L335.0,113.9 L337.9,114.1 L340.7,114.3 L343.6,114.4 L346.5,114.6 L349.3,114.8 L352.2,115.0 L355.1,115.2 L357.9,115.4 L360.8,115.6 L363.7,115.8 L366.5,116.0 L369.4,116.2 L372.2,116.4 L375.1,116.7 L378.0,116.9 L380.8,117.1 L383.7,117.3 L386.6,117.5 L389.4,117.8 L392.3,118.0 L392.3,118.0 L396.4,119.5 L400.5,121.0 L404.5,122.5 L408.6,124.0 L412.7,125.5 L416.8,127.0 L420.8,128.4 L424.9,129.9 L429.0,131.4 L433.1,132.8 L437.1,134.3 L441.2,135.7 L445.3,137.1 L449.4,138.5 L453.4,139.9 L457.5,141.3 L461.6,142.7 L465.7,144.1 L469.8,145.5 L473.8,146.8 L477.9,148.2 L482.0,149.5 L486.1,150.9 L490.1,152.2 L494.2,153.5 L498.3,154.9 L502.4,156.2 L506.4,157.5 L510.5,158.9 L514.6,160.2 L518.7,161.5 L522.7,162.9 L526.8,164.2 L530.9,165.6 L535.0,166.9 L539.1,168.3 L543.1,169.6 L547.2,171.0 L551.3,172.3 L555.4,173.7 L559.4,175.0 L563.5,176.4 L567.6,177.7 L571.7,179.1 L575.7,180.4 L579.8,181.8 L583.9,183.1 L588.0,184.5 L592.0,185.8 L596.1,187.2 L600.2,188.6 L604.3,189.9 L608.4,191.3 L612.4,192.7 L616.5,194.1 L620.6,195.5 L624.7,196.9 L628.7,198.3 L632.8,199.7 L636.9,201.1 L641.0,202.4 L645.0,203.8 L649.1,205.2 L653.2,206.6 L657.3,208.0 L661.3,209.4 L665.4,210.8 L669.5,212.1 L673.6,213.5 L677.7,214.9 L681.7,216.2 L685.8,217.5 L689.9,218.8 L694.0,220.1 L698.0,221.4 L702.1,222.7 L706.2,223.9 L710.3,225.1 L714.3,226.4 L718.4,227.6 L722.5,228.8 L726.6,230.0 L730.6,231.2 L734.7,232.4 L738.8,233.6 L742.9,234.7 L747.0,235.9 L751.0,237.1 L755.1,238.3 L759.2,239.5 L763.3,240.7 L767.3,241.9 L771.4,243.1 L775.5,244.3 L779.6,245.6 L783.6,246.8 L787.7,248.0 L791.8,249.2 L795.9,250.4 L799.9,251.6 L804.0,252.8 L808.1,254.1 L812.2,255.3 L816.3,256.5 L820.3,257.7 L824.4,258.9 L828.5,260.2 L832.6,261.4 L836.6,262.6 L840.7,263.9 L844.8,265.1 L848.9,266.3 L852.9,267.6 L857.0,268.9 L861.1,270.1 L865.2,271.4 L869.2,272.6 L873.3,273.9 L877.4,275.2" fill="none" stroke="#114a85" stroke-width="2.65" stroke-linecap="round" stroke-linejoin="round" />
<path d="M51.4,147.0 L56.4,147.3 L61.3,147.7 L66.3,148.0 L71.3,148.4 L76.2,148.7 L81.2,149.0 L86.1,149.3 L91.1,149.7 L96.1,150.0 L101.0,150.3 L106.0,150.6 L111.0,151.0 L115.9,151.3 L120.9,151.6 L125.8,151.9 L130.8,152.2 L135.8,152.5 L140.7,152.8 L145.7,153.1 L150.7,153.4 L155.6,153.7 L160.6,153.9 L165.5,154.2 L170.5,154.5 L175.5,154.8 L180.4,155.1 L185.4,155.3 L190.4,155.6 L195.3,155.9 L200.3,156.2 L205.3,156.5 L210.2,156.8 L215.2,157.0 L220.1,157.3 L225.1,157.6 L230.1,157.9 L235.0,158.2 L240.0,158.4 L245.0,158.7 L249.9,159.0 L254.9,159.3 L259.8,159.6 L264.8,159.9 L269.8,160.1 L274.7,160.4 L279.7,160.7 L284.7,161.0 L289.6,161.3 L294.6,161.6 L295.5,161.7" fill="none" stroke="#114a85" stroke-width="0.9" stroke-linecap="butt" stroke-linejoin="round" />
<path d="M295.5,161.7 L299.6,161.9 L304.5,162.2 L309.5,162.5 L314.4,162.8 L319.4,163.1 L324.4,163.4 L329.3,163.8 L334.3,164.1 L339.3,164.4 L344.2,164.7 L349.2,165.1 L354.1,165.4 L359.1,165.7 L364.1,166.1 L369.0,166.5 L374.0,166.8 L379.0,167.2 L383.9,167.6 L388.9,168.0 L393.8,168.4 L398.8,168.8 L403.8,169.2 L408.7,169.6 L413.7,170.0 L418.7,170.4 L423.6,170.9 L428.6,171.3 L433.6,171.8 L438.5,172.3 L443.5,172.7 L448.4,173.2 L453.4,173.7 L458.4,174.3 L463.3,174.8 L468.3,175.4 L473.3,175.9 L478.2,176.5 L483.2,177.1 L488.1,177.7 L493.1,178.3 L498.1,179.0 L503.0,179.6 L508.0,180.3 L513.0,180.9 L517.9,181.6 L522.9,182.3 L527.9,183.0 L532.8,183.7 L537.8,184.4 L542.7,185.1 L547.7,185.8 L552.7,186.5 L557.6,187.3 L562.6,188.1 L567.6,188.8 L572.5,189.6 L577.5,190.4 L582.4,191.3 L587.4,192.1 L592.4,193.0 L597.3,193.8 L602.3,194.7 L607.3,195.6 L612.2,196.5 L617.2,197.5 L622.1,198.5 L627.1,199.5 L632.1,200.6 L637.0,201.7 L642.0,202.8 L642.5,203.0 L645.0,203.8 L649.1,205.2 L653.2,206.6 L657.3,208.0 L661.3,209.4 L665.4,210.8 L669.5,212.1 L673.6,213.5 L677.7,214.9 L681.7,216.2 L685.8,217.5 L689.9,218.8 L694.0,220.1 L698.0,221.4 L702.1,222.7 L706.2,223.9 L710.3,225.1 L714.3,226.4 L718.4,227.6 L722.5,228.8 L726.6,230.0 L730.6,231.2 L734.7,232.4 L738.8,233.6 L742.9,234.7 L747.0,235.9 L751.0,237.1 L755.1,238.3 L759.2,239.5 L763.3,240.7 L767.3,241.9 L771.4,243.1 L775.5,244.3 L779.6,245.6 L783.6,246.8 L787.7,248.0 L791.8,249.2 L795.9,250.4 L799.9,251.6 L804.0,252.8 L808.1,254.1 L812.2,255.3 L816.3,256.5 L820.3,257.7 L824.4,258.9 L828.5,260.2 L832.6,261.4 L836.6,262.6 L840.7,263.9 L844.8,265.1 L848.9,266.3 L852.9,267.6 L857.0,268.9 L861.1,270.1 L865.2,271.4 L869.2,272.6 L873.3,273.9 L877.4,275.2" fill="none" stroke="#114a85" stroke-width="3.3" stroke-linecap="round" stroke-linejoin="round" />
<path d="M51.4,351.4 L54.2,351.5 L57.1,351.5 L59.9,351.6 L62.8,351.6 L65.6,351.7 L68.5,351.8 L71.3,351.8 L74.2,351.9 L77.0,352.0 L79.8,352.0 L82.7,352.1 L85.5,352.2 L88.4,352.3 L91.2,352.3 L94.1,352.4 L96.9,352.5 L99.8,352.5 L102.6,352.6 L105.4,352.7 L108.3,352.8 L111.1,352.8 L114.0,352.9 L116.8,353.0 L119.7,353.1 L122.5,353.2 L125.4,353.2 L128.2,353.3 L131.0,353.4 L133.9,353.5 L136.7,353.6 L139.6,353.6 L142.4,353.7 L145.3,353.8 L148.1,353.9 L148.3,353.9" fill="none" stroke="#114a85" stroke-width="0.9" stroke-linecap="butt" stroke-linejoin="round" />
<path d="M148.3,353.9 L151.0,354.0 L153.8,354.1 L156.6,354.1 L159.5,354.2 L162.3,354.3 L165.2,354.4 L168.0,354.5 L170.9,354.6 L173.7,354.7 L176.6,354.8 L179.4,354.8 L182.2,354.9 L185.1,355.0 L187.9,355.1 L190.8,355.2 L193.6,355.3 L196.5,355.4 L199.3,355.5 L202.2,355.6 L205.0,355.8 L207.8,355.9 L210.7,356.0 L213.5,356.1 L216.4,356.2 L219.2,356.4 L222.1,356.5 L224.9,356.6 L227.8,356.8 L230.6,356.9 L233.5,357.0 L236.3,357.2 L239.1,357.3 L242.0,357.5 L244.8,357.7 L247.7,357.8 L250.5,358.0 L253.4,358.1 L256.2,358.3 L259.1,358.5 L261.9,358.7 L264.7,358.8 L267.6,359.0 L270.4,359.2 L273.3,359.4 L276.1,359.6 L279.0,359.8 L281.8,360.0 L284.7,360.2 L287.5,360.4 L290.3,360.6 L293.2,360.8 L296.0,361.0 L298.9,361.2 L301.7,361.4 L304.6,361.6 L307.4,361.8 L310.3,362.0 L313.1,362.2 L315.9,362.5 L318.8,362.7 L321.6,362.9 L324.5,363.2 L327.3,363.4 L330.2,363.7 L333.0,363.9 L335.9,364.2 L338.7,364.5 L341.5,364.7 L344.4,365.0 L347.2,365.3 L350.1,365.6 L352.9,365.9 L355.8,366.2 L358.6,366.5 L361.5,366.9 L364.3,367.2 L367.1,367.5 L370.0,367.9 L372.8,368.2 L375.7,368.7 L378.5,369.1 L381.4,369.6 L384.2,370.1 L387.1,370.6 L389.9,371.1" fill="none" stroke="#114a85" stroke-width="2.8" stroke-linecap="round" stroke-linejoin="round" />
<circle cx="642" cy="264.3" r="6.4" fill="#ff0000"/>
<circle cx="642" cy="276.2" r="6.4" fill="#ff0000"/>
<circle cx="642" cy="202.8" r="6.5" fill="#ffff00" stroke="#ff0000" stroke-width="1.6"/>
<path d="M636,202.5 H642" stroke="#3c3c3c" stroke-width="1" opacity="0.6"/>
<path d="M642,203 V209" stroke="#6b7680" stroke-width="2" opacity="0.6"/>
<path d="M636.5,206.3 L642,202.8" stroke="#ff0000" stroke-width="0.9" opacity="0.8"/>
<path d="M52,672.3 H73" stroke="#000" stroke-width="1.1"/>
<path d="M73,672.3 H281" stroke="#666" stroke-width="1"/>
<path d="M52,675.8 H73" stroke="#b4b4b4" stroke-width="1"/>
<path d="M73,675.8 H296" stroke="#666" stroke-width="1"/>
<path d="M52,690.3 H148" stroke="#a8a8a8" stroke-width="1"/>
<path d="M51.4,620.0 L320.0,561.9" fill="none" stroke="#114a85" stroke-width="0.9" stroke-linecap="butt" stroke-linejoin="round" />
<path d="M320.0,561.9 L392.6,547.4 L540.0,548.2 L877.0,548.4" fill="none" stroke="#114a85" stroke-width="2.2" stroke-linecap="round" stroke-linejoin="round" />
<path d="M51.4,629.3 L392.6,561.4 L642.0,561.5" fill="none" stroke="#114a85" stroke-width="0.9" stroke-linecap="butt" stroke-linejoin="round" />
<path d="M51.4,637.5 L56.4,636.6 L61.3,635.6 L66.3,634.7 L71.3,633.7 L76.2,632.8 L81.2,631.9 L86.1,630.9 L91.1,630.0 L96.1,629.1 L101.0,628.2 L106.0,627.3 L111.0,626.4 L115.9,625.4 L120.9,624.5 L125.8,623.6 L130.8,622.7 L135.8,621.8 L140.7,621.0 L145.7,620.1 L150.7,619.2 L155.6,618.3 L160.6,617.4 L165.5,616.5 L170.5,615.7 L175.5,614.8 L180.4,613.9 L185.4,613.1 L190.4,612.2 L195.3,611.3 L200.3,610.5 L205.3,609.6 L210.2,608.8 L215.2,607.9 L220.1,607.1 L225.1,606.2 L230.1,605.4 L235.0,604.6 L240.0,603.7 L245.0,602.9 L249.9,602.1 L254.9,601.2 L259.8,600.4 L264.8,599.6 L269.8,598.8 L274.7,598.0 L279.7,597.2 L284.7,596.3 L289.6,595.5 L294.6,594.7 L296.0,594.5" fill="none" stroke="#114a85" stroke-width="0.9" stroke-linecap="butt" stroke-linejoin="round" />
<path d="M51.4,645.9 L56.4,645.0 L61.3,644.0 L66.3,643.1 L71.3,642.1 L76.2,641.2 L81.2,640.3 L86.1,639.4 L91.1,638.4 L96.1,637.5 L101.0,636.6 L106.0,635.7 L111.0,634.8 L115.9,633.9 L120.9,633.0 L125.8,632.2 L130.8,631.3 L135.8,630.4 L140.7,629.5 L145.7,628.7 L150.7,627.8 L155.6,626.9 L160.6,626.1 L165.5,625.2 L170.5,624.4 L175.5,623.6 L180.4,622.7 L185.4,621.9 L190.4,621.0 L195.3,620.2 L200.3,619.4 L205.3,618.6 L210.2,617.8 L215.2,617.0 L220.1,616.2 L225.1,615.3 L230.1,614.6 L235.0,613.8 L240.0,613.0 L245.0,612.2 L249.9,611.4 L254.9,610.6 L259.8,609.8 L264.8,609.1 L269.8,608.3 L274.7,607.5 L279.7,606.8 L284.7,606.0 L289.6,605.3 L294.6,604.5 L296.0,604.3" fill="none" stroke="#114a85" stroke-width="0.9" stroke-linecap="butt" stroke-linejoin="round" />
<path d="M296.0,604.3 L299.6,603.8 L304.5,603.0 L309.5,602.3 L314.4,601.6 L319.4,600.9 L324.4,600.2 L329.3,599.5 L334.3,598.8 L339.3,598.1 L344.2,597.4 L349.2,596.7 L354.1,596.0 L359.1,595.3 L364.1,594.7 L369.0,594.0 L374.0,593.3 L379.0,592.7 L383.9,592.0 L388.9,591.4 L393.8,590.7 L398.8,590.0 L403.8,589.4 L408.7,588.7 L413.7,588.0 L418.7,587.4 L423.6,586.7 L428.6,586.0 L433.6,585.4 L438.5,584.7 L443.5,584.0 L448.4,583.3 L453.4,582.6 L458.4,582.0 L463.3,581.3 L468.3,580.6 L473.3,579.9 L478.2,579.3 L483.2,578.6 L488.1,577.9 L493.1,577.3 L498.1,576.6 L503.0,576.0 L508.0,575.3 L513.0,574.7 L517.9,574.1 L522.9,573.5 L527.9,572.9 L532.8,572.3 L537.8,571.7 L542.7,571.2 L547.7,570.6 L552.7,570.1 L557.6,569.6 L562.6,569.0 L567.6,568.5 L572.5,568.0 L577.5,567.5 L582.4,567.0 L587.4,566.5 L592.4,566.0 L597.3,565.5 L602.3,565.0 L607.3,564.6 L612.2,564.1 L617.2,563.7 L622.1,563.2 L627.1,562.8 L632.1,562.3 L637.0,561.9 L642.0,561.5 L877.0,561.4" fill="none" stroke="#114a85" stroke-width="2.6" stroke-linecap="round" stroke-linejoin="round" />
<path d="M296.0,594.5 L299.6,593.9 L304.5,593.1 L309.5,592.3 L314.4,591.5 L319.4,590.8 L324.4,590.0 L329.3,589.2 L334.3,588.4 L339.3,587.7 L344.2,586.9 L349.2,586.2 L354.1,585.4 L359.1,584.6 L364.1,583.9 L369.0,583.2 L374.0,582.4 L379.0,581.7 L383.9,580.9 L388.9,580.2 L393.8,579.5 L398.8,578.7 L403.8,578.0 L408.7,577.3 L413.7,576.5 L418.7,575.8 L423.6,575.1 L428.6,574.3 L433.6,573.6 L438.5,572.8 L443.5,572.1 L448.4,571.4 L453.4,570.6 L458.4,569.9 L463.3,569.1 L468.3,568.4 L473.3,567.6 L478.2,566.9 L483.2,566.2 L488.1,565.5 L493.1,564.8 L498.1,564.0 L503.0,563.4 L508.0,562.7 L513.0,562.0 L517.9,561.3 L522.9,560.7 L527.9,560.1 L532.8,559.5 L537.8,558.9 L542.7,558.3 L547.7,557.7 L552.7,557.1 L557.6,556.6 L562.6,556.0 L567.6,555.5 L572.5,555.0 L577.5,554.4 L582.4,553.9 L587.4,553.4 L592.4,552.9 L597.3,552.4 L602.3,551.9 L607.3,551.5 L612.2,551.0 L617.2,550.5 L622.1,550.1 L627.1,549.7 L632.1,549.2 L637.0,548.8 L642.0,548.4 L877.0,548.4" fill="none" stroke="#114a85" stroke-width="3.6" stroke-linecap="round" stroke-linejoin="round" />
<path d="M51.4,686.7 L148.0,683.6" fill="none" stroke="#114a85" stroke-width="0.9" stroke-linecap="butt" stroke-linejoin="round" />
<path d="M51.4,689.6 L148.0,687.2" fill="none" stroke="#114a85" stroke-width="0.9" stroke-linecap="butt" stroke-linejoin="round" />
<path d="M148.0,687.2 L389.8,683.0" fill="none" stroke="#114a85" stroke-width="1.1" stroke-linecap="round" stroke-linejoin="round" />
<path d="M148.0,683.6 L389.8,680.6" fill="none" stroke="#114a85" stroke-width="2.2" stroke-linecap="round" stroke-linejoin="round" />
<path d="M148.0,690.2 L150.0,690.2 L152.1,690.2 L154.1,690.2 L156.1,690.1 L158.2,690.1 L160.2,690.1 L162.2,690.1 L164.3,690.1 L166.3,690.0 L168.3,690.0 L170.4,690.0 L172.4,689.9 L174.4,689.9 L176.4,689.9 L178.5,689.9 L180.5,689.8 L182.5,689.8 L184.6,689.8 L186.6,689.7 L188.6,689.7 L190.7,689.7 L192.7,689.6 L194.7,689.6 L196.8,689.5 L198.8,689.5 L200.8,689.5 L202.9,689.4 L204.9,689.4 L206.9,689.3 L209.0,689.3 L211.0,689.3 L213.0,689.2 L215.1,689.2 L217.1,689.1 L219.1,689.1 L221.1,689.0 L223.2,689.0 L225.2,688.9 L227.2,688.9 L229.3,688.9 L231.3,688.8 L233.3,688.8 L235.4,688.7 L237.4,688.7 L239.4,688.6 L241.5,688.6 L243.5,688.5 L245.5,688.5 L247.6,688.4 L249.6,688.3 L251.6,688.3 L253.7,688.2 L255.7,688.2 L257.7,688.1 L259.8,688.0 L261.8,688.0 L263.8,687.9 L265.9,687.8 L267.9,687.8 L269.9,687.7 L271.9,687.6 L274.0,687.5 L276.0,687.5 L278.0,687.4 L280.1,687.3 L282.1,687.2 L284.1,687.1 L286.2,687.0 L288.2,687.0 L290.2,686.9 L292.3,686.8 L294.3,686.7 L296.3,686.6 L298.4,686.5 L300.4,686.5 L302.4,686.4 L304.5,686.3 L306.5,686.2 L308.5,686.1 L310.6,686.0 L312.6,685.9 L314.6,685.8 L316.7,685.7 L318.7,685.7 L320.7,685.6 L322.7,685.5 L324.8,685.4 L326.8,685.3 L328.8,685.2 L330.9,685.1 L332.9,685.0 L334.9,684.9 L337.0,684.8 L339.0,684.7 L341.0,684.6 L343.1,684.5 L345.1,684.4 L347.1,684.3 L349.2,684.2 L351.2,684.1 L353.2,684.0 L355.3,683.9 L357.3,683.8 L359.3,683.7 L361.4,683.6 L363.4,683.5 L365.4,683.4 L367.4,683.3 L369.5,683.1 L371.5,683.0 L373.5,682.9 L375.6,682.8 L377.6,682.7 L379.6,682.6 L381.7,682.5 L383.7,682.4 L385.7,682.2 L387.8,682.1 L389.8,682.0" fill="none" stroke="#000" stroke-width="2.4" stroke-linecap="round" stroke-linejoin="round" />
<path d="M280.0,672.3 L282.4,672.3 L284.7,672.3 L287.1,672.2 L289.4,672.2 L291.8,672.2 L294.1,672.1 L296.5,672.1 L298.8,672.1 L301.2,672.1 L303.5,672.0 L305.9,672.0 L308.2,672.0 L310.6,672.0 L312.9,671.9 L315.3,671.9 L317.6,671.9 L320.0,671.8 L322.4,671.8 L324.7,671.8 L327.1,671.8 L329.4,671.7 L331.8,671.7 L334.1,671.7 L336.5,671.6 L338.8,671.6 L341.2,671.6 L343.5,671.6 L345.9,671.5 L348.2,671.5 L350.6,671.5 L352.9,671.4 L355.3,671.4 L357.6,671.4 L360.0,671.3 L362.4,671.3 L364.7,671.3 L367.1,671.2 L369.4,671.2 L371.8,671.2 L374.1,671.1 L376.5,671.1 L378.8,671.1 L381.2,671.0 L383.5,671.0 L385.9,671.0 L388.2,670.9 L390.6,670.9 L392.9,670.8 L395.3,670.8 L397.6,670.8 L400.0,670.7 L402.4,670.7 L404.7,670.7 L407.1,670.6 L409.4,670.6 L411.8,670.6 L414.1,670.5 L416.5,670.5 L418.8,670.5 L421.2,670.5 L423.5,670.4 L425.9,670.4 L428.2,670.4 L430.6,670.3 L432.9,670.3 L435.3,670.3 L437.6,670.3 L440.0,670.2 L442.4,670.2 L444.7,670.2 L447.1,670.1 L449.4,670.1 L451.8,670.1 L454.1,670.0 L456.5,670.0 L458.8,670.0 L461.2,669.9 L463.5,669.9 L465.9,669.9 L468.2,669.8 L470.6,669.8 L472.9,669.7 L475.3,669.7 L477.6,669.6 L480.0,669.6 L482.4,669.5 L484.7,669.5 L487.1,669.4 L489.4,669.4 L491.8,669.3 L494.1,669.2 L496.5,669.1 L498.8,669.1 L501.2,669.0 L503.5,668.9 L505.9,668.8 L508.2,668.7 L510.6,668.6 L512.9,668.5 L515.3,668.4 L517.6,668.3 L520.0,668.2 L522.4,668.1 L524.7,668.0 L527.1,667.9 L529.4,667.7 L531.8,667.6 L534.1,667.5 L536.5,667.4 L538.8,667.2 L541.2,667.1 L543.5,667.0 L545.9,666.8 L548.2,666.7 L550.6,666.6 L552.9,666.4 L555.3,666.3 L557.6,666.1 L560.0,666.0" fill="none" stroke="#000" stroke-width="1.8" stroke-linecap="round" stroke-linejoin="round" />
<path d="M296.0,675.5 L300.2,675.5 L304.4,675.4 L308.5,675.4 L312.7,675.4 L316.9,675.3 L321.1,675.3 L325.3,675.2 L329.4,675.1 L333.6,675.1 L337.8,675.0 L342.0,674.9 L346.2,674.9 L350.3,674.8 L354.5,674.7 L358.7,674.6 L362.9,674.5 L367.1,674.4 L371.2,674.3 L375.4,674.2 L379.6,674.1 L383.8,674.0 L388.0,673.9 L392.1,673.7 L396.3,673.6 L400.5,673.5 L404.7,673.4 L408.9,673.2 L413.0,673.1 L417.2,672.9 L421.4,672.8 L425.6,672.6 L429.8,672.5 L433.9,672.3 L438.1,672.2 L442.3,672.0 L446.5,671.8 L450.7,671.6 L454.8,671.5 L459.0,671.3 L463.2,671.1 L467.4,670.9 L471.6,670.7 L475.7,670.5 L479.9,670.3 L484.1,670.1 L488.3,669.9 L492.5,669.6 L496.6,669.4 L500.8,669.2 L505.0,668.9 L509.2,668.7 L513.4,668.5 L517.5,668.2 L521.7,668.0 L525.9,667.7 L530.1,667.5 L534.3,667.2 L538.4,666.9 L542.6,666.7 L546.8,666.4 L551.0,666.1 L555.2,665.8 L559.3,665.5 L563.5,665.2 L567.7,664.9 L571.9,664.6 L576.1,664.3 L580.2,664.0 L584.4,663.7 L588.6,663.4 L592.8,663.0 L596.9,662.7 L601.1,662.4 L605.3,662.0 L609.5,661.7 L613.7,661.3 L617.8,661.0 L622.0,660.6 L626.2,660.2 L630.4,659.9 L634.6,659.5 L638.7,659.1 L642.9,658.7 L647.1,658.3 L651.3,657.9 L655.5,657.5 L659.6,657.1 L663.8,656.7 L668.0,656.3 L672.2,655.9 L676.4,655.5 L680.5,655.0 L684.7,654.6 L688.9,654.2 L693.1,653.7 L697.3,653.3 L701.4,652.8 L705.6,652.3 L709.8,651.9 L714.0,651.4 L718.2,650.9 L722.3,650.5 L726.5,650.0 L730.7,649.5 L734.9,649.0 L739.1,648.5 L743.2,648.0 L747.4,647.5 L751.6,647.0 L755.8,646.4 L760.0,645.9 L764.1,645.4 L768.3,644.8 L772.5,644.3 L776.7,643.8 L780.9,643.2 L785.0,642.6 L789.2,642.1 L793.4,641.5 L797.6,640.9 L801.8,640.4 L805.9,639.8 L810.1,639.2 L814.3,638.6 L818.5,638.0 L822.7,637.4 L826.8,636.8 L831.0,636.1 L835.2,635.5 L839.4,634.9 L843.6,634.3 L847.7,633.6 L851.9,633.0 L856.1,632.3 L860.3,631.7 L864.5,631.0 L868.6,630.3 L872.8,629.7 L877.0,629.0" fill="none" stroke="#000" stroke-width="3.8" stroke-linecap="round" stroke-linejoin="round" />
<circle cx="642" cy="548.4" r="6.4" fill="#ff0000"/>
<circle cx="642" cy="561.6" r="6.4" fill="#ff0000"/>
<circle cx="642" cy="658.2" r="6.4" fill="#ff0000"/>
<rect x="782.5" y="0" width="176" height="28.5" fill="#fff" stroke="#4a4a4a" stroke-width="1"/>
<path d="M50,0.5 H960" stroke="#8a8a8a" stroke-width="1.2"/>
<path d="M50,518.2 H960" stroke="#8a8a8a" stroke-width="1.4"/>
<path d="M51.3,0 V397.5 M959.2,0 V391.5 M44,390.6 H966.5 M51.3,517.5 V693.3 M959.2,517.5 V693.3 M44,692.4 H966.5 M131.12,390 V397.5 M211.05,390 V397.5 M290.97,390 V397.5 M370.90,390 V397.5 M450.82,390 V397.5 M530.75,390 V397.5 M610.68,390 V397.5 M690.60,390 V397.5 M770.52,390 V397.5 M850.45,390 V397.5 M930.38,390 V397.5 M44,351.5 H51 M44,312.5 H51 M44,273.5 H51 M44,234.5 H51 M44,195.5 H51 M44,156.5 H51 M44,117.5 H51 M44,78.5 H51 M959,351.5 H966.5 M959,312.5 H966.5 M959,273.5 H966.5 M959,234.5 H966.5 M959,195.5 H966.5 M44,670.61 H51 M959,670.61 H966.5 M44,648.83 H51 M959,648.83 H966.5 M44,627.04 H51 M959,627.04 H966.5 M44,605.25 H51 M959,605.25 H966.5 M44,583.46 H51 M959,583.46 H966.5 M44,561.67 H51 M959,561.67 H966.5 M44,539.89 H51 M959,539.89 H966.5" stroke="#000000" stroke-width="1.85" fill="none"/>
<text x="788.5" y="18.8" textLength="152.5" lengthAdjust="spacingAndGlyphs">CRNE 5-12, 3*500 V</text>
<text x="27.5" y="14.6" text-anchor="middle">H</text>
<text x="27.5" y="34.6" text-anchor="middle">[m]</text>
<text x="981" y="15" text-anchor="middle">eta</text>
<text x="981" y="34.6" text-anchor="middle">[%]</text>
<text x="38.5" y="395.2" text-anchor="end">0</text>
<text x="38.5" y="356.2" text-anchor="end">20</text>
<text x="38.5" y="317.2" text-anchor="end">40</text>
<text x="38.5" y="278.2" text-anchor="end">60</text>
<text x="38.5" y="239.2" text-anchor="end">80</text>
<text x="38.5" y="200.2" text-anchor="end">100</text>
<text x="38.5" y="161.2" text-anchor="end">120</text>
<text x="38.5" y="122.19999999999999" text-anchor="end">140</text>
<text x="38.5" y="83.19999999999999" text-anchor="end">160</text>
<text x="971.3" y="395.2" font-size="16.2">0</text>
<text x="971.3" y="356.2" font-size="16.2">20</text>
<text x="971.3" y="317.2" font-size="16.2">40</text>
<text x="971.3" y="278.2" font-size="16.2">60</text>
<text x="971.3" y="239.2" font-size="16.2">80</text>
<text x="971.3" y="200.2" font-size="16.2">100</text>
<text x="50.6" y="413" text-anchor="middle">0</text>
<text x="130.5" y="413" text-anchor="middle">1</text>
<text x="210.5" y="413" text-anchor="middle">2</text>
<text x="290.4" y="413" text-anchor="middle">3</text>
<text x="370.3" y="413" text-anchor="middle">4</text>
<text x="450.2" y="413" text-anchor="middle">5</text>
<text x="530.1" y="413" text-anchor="middle">6</text>
<text x="610.1" y="413" text-anchor="middle">7</text>
<text x="690.0" y="413" text-anchor="middle">8</text>
<text x="769.9" y="413" text-anchor="middle">9</text>
<text x="849.9" y="413" text-anchor="middle">10</text>
<text x="888.8" y="413" textLength="60.5" lengthAdjust="spacingAndGlyphs">Q [m³/h]</text>
<text x="89.2" y="94.3">100 %</text>
<text x="85" y="144.9">91 %</text>
<text x="66.2" y="346.8">36 %</text>
<text x="54.6" y="439" textLength="103.5" lengthAdjust="spacingAndGlyphs">Q = 7.39 m³/h</text>
<text x="54.6" y="460.9" textLength="151.5" lengthAdjust="spacingAndGlyphs">n = 91 % / 3634 rpm</text>
<text x="54.6" y="482.0" textLength="330" lengthAdjust="spacingAndGlyphs">Liquid temperature during operation = 20 °C</text>
<text x="54.6" y="503.3" textLength="142.5" lengthAdjust="spacingAndGlyphs">Eta pump = 64.5 %</text>
<text x="439.6" y="439" textLength="82.5" lengthAdjust="spacingAndGlyphs">H = 96.2 m</text>
<text x="439.6" y="460.9" textLength="170" lengthAdjust="spacingAndGlyphs">Pumped liquid = Water</text>
<text x="439.6" y="482.0" textLength="166.5" lengthAdjust="spacingAndGlyphs">Density = 998.2 kg/m³</text>
<text x="439.6" y="503.3" textLength="310.6" lengthAdjust="spacingAndGlyphs">Eta pump+motor+freq.converter = 58.7 %</text>
<text x="24.8" y="532.8" text-anchor="middle">P</text>
<text x="7.8" y="552.4" textLength="33.2" lengthAdjust="spacingAndGlyphs">[kW]</text>
<text x="990.6" y="532.7" text-anchor="middle">NPSH</text>
<text x="990.4" y="552.3" text-anchor="middle" textLength="23" lengthAdjust="spacingAndGlyphs">[m]</text>
<text x="38.5" y="697.1" text-anchor="end">0.0</text>
<text x="38.5" y="675.3125" text-anchor="end">0.5</text>
<text x="38.5" y="653.5250000000001" text-anchor="end">1.0</text>
<text x="38.5" y="631.7375000000001" text-anchor="end">1.5</text>
<text x="38.5" y="609.95" text-anchor="end">2.0</text>
<text x="38.5" y="588.1625" text-anchor="end">2.5</text>
<text x="971.3" y="697.1" font-size="16.2">0</text>
<text x="971.3" y="675.3125" font-size="16.2">2</text>
<text x="971.3" y="653.5250000000001" font-size="16.2">4</text>
<text x="971.3" y="631.7375000000001" font-size="16.2">6</text>
<text x="971.3" y="609.95" font-size="16.2">8</text>
<text x="971.3" y="588.1625" font-size="16.2">10</text>
<text x="669.4" y="543.4" textLength="195.5" lengthAdjust="spacingAndGlyphs" fill="#1b4f8a">P1 (motor+freq.converter)</text>
<text x="851.5" y="577.9" fill="#1b4f8a">P2</text>
<text x="54.6" y="719" textLength="287" lengthAdjust="spacingAndGlyphs">P1 (motor+freq.converter) = 3.295 kW</text>
<text x="54.6" y="740.2" textLength="111" lengthAdjust="spacingAndGlyphs">P2 = 2.996 kW</text>
<text x="54.6" y="762.2" textLength="116.5" lengthAdjust="spacingAndGlyphs">NPSH = 3.12 m</text>
</svg>
</body></html>
